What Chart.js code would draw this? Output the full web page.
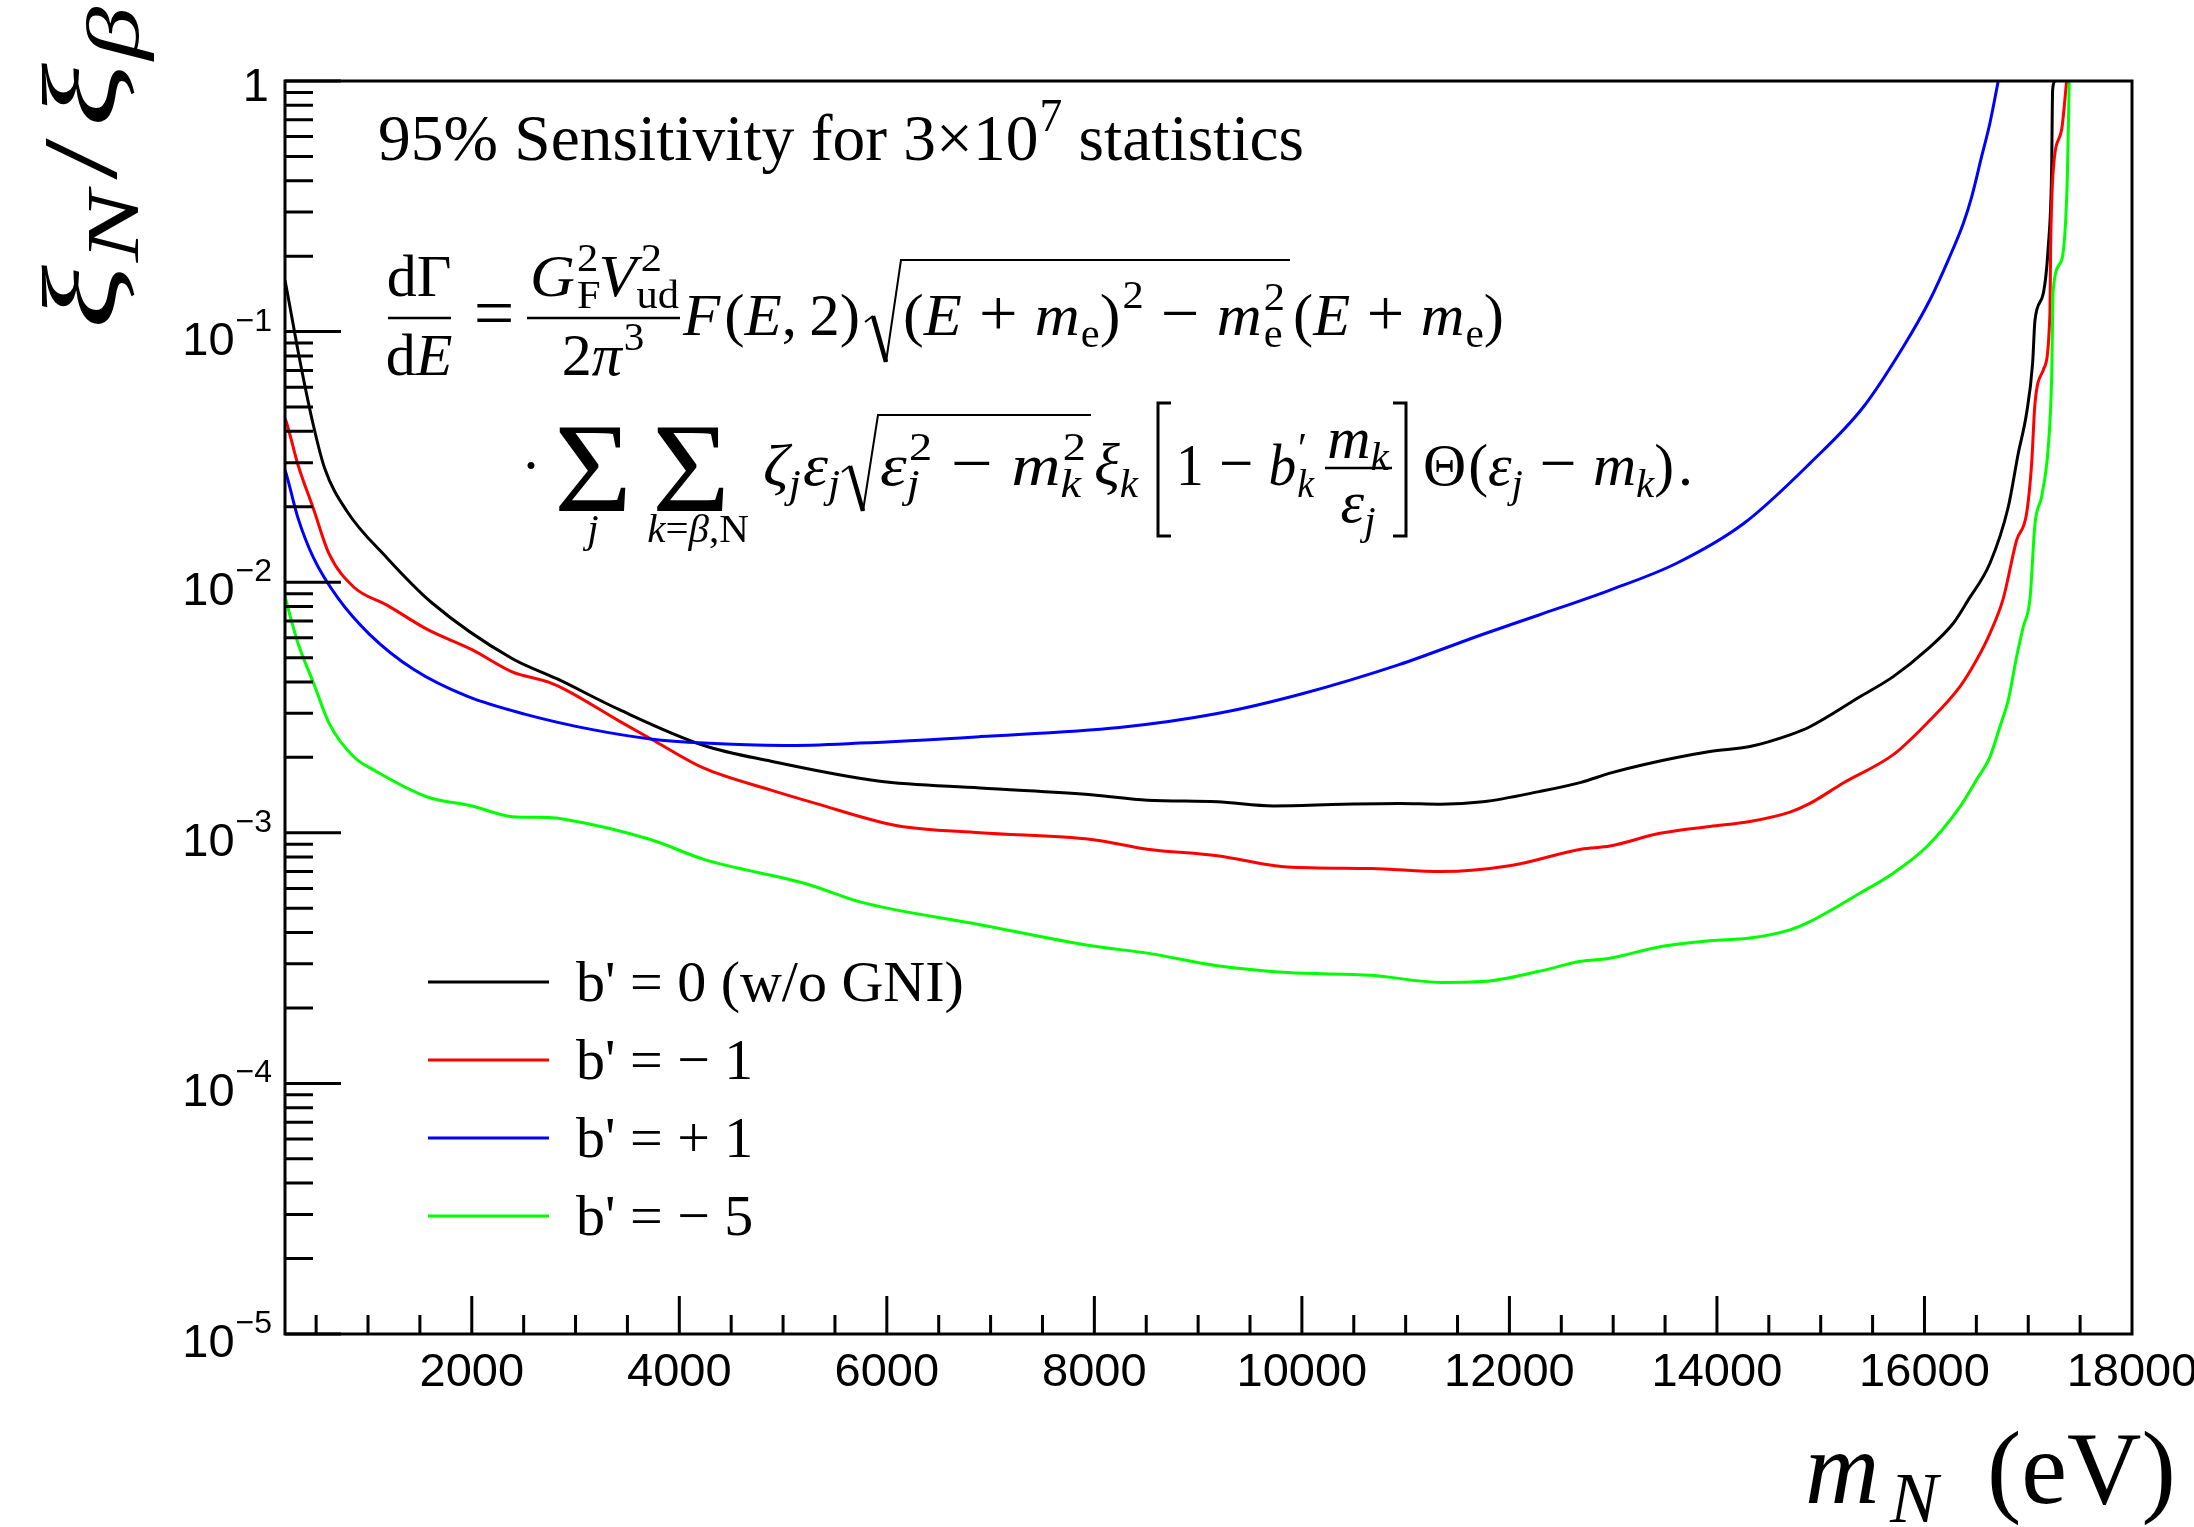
<!DOCTYPE html>
<html>
<head>
<meta charset="utf-8">
<title>95% Sensitivity</title>
<script src="https://cdn.jsdelivr.net/npm/chart.js@4.4.1/dist/chart.umd.min.js"></script>
<style>
  html, body { margin: 0; padding: 0; background: #ffffff; }
  canvas { display: block; }
</style>
</head>
<body>
<canvas id="sensChart" width="2194" height="1527" style="width:2194px;height:1527px"></canvas>
<script>
// m_N (eV) and xi_N / xi_beta, one pair per curve
const mN_b0 = [200, 216, 345, 475, 582, 797, 1183, 1615, 2388, 2819, 3422, 4238, 4884, 5915, 6898, 7971, 8511, 9185, 9724, 10398, 10937, 11342, 11746, 12285, 12690, 12969, 13290, 13933, 14318, 14704, 14896, 15378, 15699, 16021, 16278, 16422, 16631, 16808, 16904, 16984, 17042, 17065, 17145, 17193, 17225, 17235, 17257];
const xi_b0 = [0.16, 0.148, 0.076, 0.042, 0.0285, 0.0192, 0.0125, 0.00828, 0.00496, 0.00412, 0.0031, 0.00223, 0.00193, 0.00161, 0.00151, 0.00142, 0.00135, 0.00133, 0.00128, 0.0013, 0.00131, 0.0013, 0.00133, 0.00146, 0.00159, 0.00173, 0.00187, 0.00211, 0.00221, 0.00246, 0.00265, 0.00349, 0.0042, 0.00537, 0.00686, 0.0085, 0.0119, 0.020, 0.0327, 0.0472, 0.0746, 0.111, 0.142, 0.218, 0.43, 0.92, 1.0];

const mN_bm1 = [200, 216, 324, 475, 624, 862, 1183, 1571, 2002, 2388, 2734, 2905, 3422, 3766, 4238, 4884, 5314, 6089, 6898, 7971, 8511, 9185, 9859, 10668, 11342, 12016, 12690, 12969, 13451, 13933, 14318, 14704, 14896, 15217, 15699, 16021, 16342, 16503, 16631, 16759, 16888, 16984, 17033, 17065, 17145, 17209, 17216, 17241, 17322, 17370];
const xi_bm1 = [0.045, 0.0432, 0.0295, 0.0196, 0.013, 0.00957, 0.0081, 0.00648, 0.00538, 0.00439, 0.004, 0.00372, 0.00279, 0.00232, 0.00181, 0.00148, 0.00131, 0.00107, 0.001, 0.00094, 0.00086, 0.00081, 0.00073, 0.00072, 0.0007, 0.00074, 0.00086, 0.000885, 0.000995, 0.00106, 0.00111, 0.00121, 0.00131, 0.00158, 0.00205, 0.00273, 0.00383, 0.0049, 0.00625, 0.0086, 0.0147, 0.0188, 0.0298, 0.0517, 0.0703, 0.118, 0.218, 0.44, 0.64, 1.0];

const mN_bp1 = [200, 216, 324, 475, 711, 1012, 1442, 1959, 2518, 3163, 3722, 4238, 5014, 5741, 6898, 8241, 9185, 9994, 10937, 11746, 12285, 12969, 13612, 14254, 14896, 15411, 15796, 16053, 16229, 16374, 16455, 16551, 16631, 16711];
const xi_bp1 = [0.028, 0.0267, 0.0181, 0.0125, 0.00863, 0.00621, 0.00448, 0.0035, 0.00297, 0.00258, 0.00237, 0.00228, 0.00223, 0.00228, 0.00242, 0.00263, 0.00299, 0.00358, 0.00469, 0.0062, 0.0074, 0.0093, 0.0119, 0.0171, 0.0298, 0.050, 0.087, 0.134, 0.193, 0.27, 0.345, 0.50, 0.68, 1.0];

const mN_bm5 = [200, 216, 324, 475, 624, 862, 1056, 1571, 2002, 2388, 2734, 2905, 3722, 4238, 5228, 5741, 6898, 7971, 8511, 9185, 9859, 10668, 11342, 11746, 12285, 12690, 12969, 13451, 13933, 14318, 14704, 14896, 15378, 15699, 16021, 16342, 16503, 16631, 16727, 16808, 16888, 16952, 17017, 17065, 17129, 17193, 17225, 17241, 17322, 17376, 17395];
const xi_bm5 = [0.0088, 0.00828, 0.00573, 0.00396, 0.00274, 0.00201, 0.00178, 0.00139, 0.00128, 0.00116, 0.00115, 0.00113, 0.00094, 0.000783, 0.000625, 0.00053, 0.00043, 0.000354, 0.000331, 0.000295, 0.000277, 0.00027, 0.000253, 0.000255, 0.00028, 0.000307, 0.000316, 0.000351, 0.000371, 0.00038, 0.00041, 0.000442, 0.000574, 0.00069, 0.00088, 0.00127, 0.00163, 0.00201, 0.00265, 0.00339, 0.00504, 0.00664, 0.0086, 0.0171, 0.022, 0.0347, 0.064, 0.147, 0.193, 0.40, 1.0];

const seriesLabels = ["b' = 0 (w/o GNI)", "b' = \u2212 1", "b' = + 1", "b' = \u2212 5"];
const seriesColors = ['#000000', '#ff0000', '#0000ff', '#00ff00'];

// axis ticks
const xMajorTicks = [2000, 4000, 6000, 8000, 10000, 12000, 14000, 16000, 18000];
const xTickLabels = ['2000', '4000', '6000', '8000', '10000', '12000', '14000', '16000', '18000'];
const xMinorStep = 500;
const yMajorTicks = [1, 1e-1, 1e-2, 1e-3, 1e-4, 1e-5];
const yTickExponents = ['', '\u22121', '\u22122', '\u22123', '\u22124', '\u22125'];

const SERIF = '"Liberation Serif", "Times New Roman", serif';
const SANS = '"Liberation Sans", Arial, sans-serif';

function setFont(ctx, size, italic) {
    ctx.font = (italic ? 'italic ' : '') + size + 'px ' + SERIF;
}

// parts: [text, italic, size, dy, dx, stack]; a stacked part does not advance,
// the next one is drawn at the same x (sub/sup pairs)
function mathRun(ctx, parts, x, y, draw) {
    let cx = x, stackW = null;
    for (const p of parts) {
        const [t, it, sz, dy = 0, dx = 0, stack = false] = p;
        setFont(ctx, sz, it);
        const w = ctx.measureText(t).width;
        if (draw) ctx.fillText(t, cx + dx, y + dy);
        if (stack) { stackW = w + dx; continue; }
        cx += stackW !== null ? Math.max(stackW, w + dx) : w + dx;
        stackW = null;
    }
    return cx - x;
}

// draw a run squeezed/stretched to a given width
function mathFit(ctx, parts, x, y, width) {
    const w = mathRun(ctx, parts, 0, 0, false);
    ctx.save();
    ctx.translate(x, y);
    ctx.scale(width / w, 1);
    mathRun(ctx, parts, 0, 0, true);
    ctx.restore();
}

function mathCentered(ctx, parts, cx, y) {
    const w = mathRun(ctx, parts, 0, 0, false);
    mathRun(ctx, parts, cx - w / 2, y, true);
}

function radical(ctx, x, yMid, yBot, yTop, xEnd) {
    ctx.beginPath();
    ctx.lineWidth = 2;
    ctx.moveTo(x, yMid + 4);
    ctx.lineTo(x + 8, yMid - 2);
    ctx.stroke();
    ctx.beginPath();
    ctx.lineWidth = 4.5;
    ctx.moveTo(x + 8, yMid - 2);
    ctx.lineTo(x + 21, yBot);
    ctx.stroke();
    ctx.beginPath();
    ctx.lineWidth = 2;
    ctx.moveTo(x + 21, yBot);
    ctx.lineTo(x + 36, yTop);
    ctx.lineTo(xEnd, yTop);
    ctx.stroke();
}

function hbar(ctx, x1, x2, y) {
    ctx.beginPath();
    ctx.lineWidth = 2.5;
    ctx.moveTo(x1, y);
    ctx.lineTo(x2, y);
    ctx.stroke();
}

function drawFormula(ctx) {
    const S = 60, s = 41, OP = 66, SUP = -25, SUB = 12;
    const B1 = 335, B2 = 485;

    // first line
    mathCentered(ctx, [['d', 0, S], ['\u0393', 0, S]], 419, 296);
    hbar(ctx, 388, 451, 318);
    mathCentered(ctx, [['d', 0, S], ['E', 1, S]], 419, 375);
    mathCentered(ctx, [['=', 0, 72]], 494, B1 + 2);

    mathFit(ctx, [['G', 1, S], ['2', 0, s, SUP, 2, true], ['F', 0, s, SUB, 2],
                  ['V', 1, S, 0, -2], ['2', 0, s, SUP, 4, true], ['ud', 0, s, SUB, 0]], 530, 296, 149);
    hbar(ctx, 527, 680, 318);
    mathCentered(ctx, [['2', 0, S], ['\u03C0', 1, S], ['3', 0, s, SUP, 2]], 603, 375);

    mathFit(ctx, [['F', 1, S], ['(', 0, S, 0, 4], ['E', 1, S], [',', 0, S], ['2', 0, S, 0, 12], [')', 0, S]], 683, B1, 177);
    mathFit(ctx, [['(', 0, S], ['E', 1, S], [' + ', 0, OP], ['m', 1, S], ['e', 0, s, SUB, 1],
                  [')', 0, S], ['2', 0, s, SUP - 2, 2], [' \u2212 ', 0, OP],
                  ['m', 1, S], ['2', 0, s, SUP, 2, true], ['e', 0, s, SUB, 2]], 903, B1, 382);
    radical(ctx, 865, 318, 362, 260, 1290);
    mathFit(ctx, [['(', 0, S], ['E', 1, S], [' + ', 0, OP], ['m', 1, S], ['e', 0, s, SUB, 1], [')', 0, S]],
            1293, B1, 211);

    // second line
    mathRun(ctx, [['\u00B7', 0, S]], 521, B2, true);
    mathFit(ctx, [['\u03A3', 0, 128]], 554, 511, 78);
    mathCentered(ctx, [['j', 1, s]], 593, 542);
    mathFit(ctx, [['\u03A3', 0, 128]], 652, 511, 78);
    mathCentered(ctx, [['k', 1, s], ['=', 0, s], ['\u03B2', 1, s], [',', 0, s], ['N', 0, s]], 698, 542);

    mathFit(ctx, [['\u03B6', 1, S], ['j', 1, s, SUB, 0], ['\u03B5', 1, S, 0, 2], ['j', 1, s, SUB, 0]], 763, B2, 77);
    mathFit(ctx, [['\u03B5', 1, S], ['2', 0, s, SUP, 2, true], ['j', 1, s, SUB, 0], [' \u2212 ', 0, OP],
                  ['m', 1, S], ['2', 0, s, SUP, 2, true], ['k', 1, s, SUB, 0]], 880, B2, 206);
    radical(ctx, 842, 468, 511, 415, 1091);
    mathFit(ctx, [['\u03BE', 1, S], ['k', 1, s, SUB, 0]], 1094, B2, 44);

    ctx.beginPath();
    ctx.lineWidth = 3;
    ctx.moveTo(1171, 403); ctx.lineTo(1158, 403); ctx.lineTo(1158, 536); ctx.lineTo(1171, 536);
    ctx.moveTo(1393, 403); ctx.lineTo(1406, 403); ctx.lineTo(1406, 536); ctx.lineTo(1393, 536);
    ctx.stroke();

    mathFit(ctx, [['1', 0, S], [' \u2212 ', 0, OP], ['b', 1, S], ['\u2032', 0, s + 4, -22, 2, true], ['k', 1, s, SUB, 1]], 1176, B2, 138);
    mathCentered(ctx, [['m', 1, S], ['k', 1, s, SUB, 0]], 1358, 458);
    hbar(ctx, 1325, 1392, 468);
    mathCentered(ctx, [['\u03B5', 1, S], ['j', 1, s, SUB, 0]], 1358, 522);

    mathFit(ctx, [['\u0398', 0, S], ['(', 0, S, 0, 2], ['\u03B5', 1, S], ['j', 1, s, SUB, 0], [' \u2212 ', 0, OP],
                  ['m', 1, S], ['k', 1, s, SUB, 0], [')', 0, S], ['.', 0, S, 0, 4]], 1423, B2, 270);
}

const framePlugin = {
    id: 'rootFrame',
    afterDatasetsDraw(chart) {
        const ctx = chart.ctx;
        const xs = chart.scales.x, ys = chart.scales.y;
        const a = chart.chartArea;
        ctx.save();
        ctx.strokeStyle = '#000';
        ctx.lineWidth = 3;
        ctx.strokeRect(a.left, a.top, a.right - a.left, a.bottom - a.top);

        // ticks drawn inside the frame, ROOT style
        ctx.beginPath();
        for (let v = xMinorStep; v < xs.max; v += xMinorStep) {
            if (v <= xs.min) continue;
            const px = xs.getPixelForValue(v);
            const len = xMajorTicks.includes(v) ? 38 : 19;
            ctx.moveTo(px, a.bottom);
            ctx.lineTo(px, a.bottom - len);
        }
        yMajorTicks.forEach(t => {
            const py = ys.getPixelForValue(t);
            ctx.moveTo(a.left, py);
            ctx.lineTo(a.left + 56, py);
            if (t >= 1) return;
            for (let m = 2; m <= 9; m++) {
                const pm = ys.getPixelForValue(t * m);
                ctx.moveTo(a.left, pm);
                ctx.lineTo(a.left + 28, pm);
            }
        });
        ctx.stroke();

        // tick labels
        ctx.fillStyle = '#000';
        ctx.textBaseline = 'alphabetic';
        ctx.font = '47px ' + SANS;
        ctx.textAlign = 'center';
        xMajorTicks.forEach((t, i) => {
            ctx.fillText(xTickLabels[i], xs.getPixelForValue(t), 1386);
        });
        ctx.textAlign = 'right';
        yMajorTicks.forEach((t, i) => {
            const py = ys.getPixelForValue(t);
            const right = a.left - 13;
            if (!yTickExponents[i]) {
                ctx.font = '47px ' + SANS;
                ctx.fillText('1', a.left - 16, py + 20);
                return;
            }
            ctx.font = '32px ' + SANS;
            const ew = ctx.measureText(yTickExponents[i]).width;
            ctx.fillText(yTickExponents[i], right, py - 1);
            ctx.font = '47px ' + SANS;
            ctx.fillText('10', right - ew - 1, py + 23);
        });
        ctx.restore();
    },
    afterDraw(chart) {
        const ctx = chart.ctx;
        ctx.save();
        ctx.fillStyle = '#000';
        ctx.strokeStyle = '#000';
        ctx.textAlign = 'left';
        ctx.textBaseline = 'alphabetic';

        // header
        mathFit(ctx, [['95% Sensitivity for 3\u00D710', 0, 66], ['7', 0, 46, -29, 1], [' statistics', 0, 66]], 378, 160, 926);

        drawFormula(ctx);

        // legend
        chart.data.datasets.forEach((ds, i) => {
            const y = 982 + i * 78;
            ctx.beginPath();
            ctx.strokeStyle = ds.borderColor;
            ctx.lineWidth = 3;
            ctx.moveTo(428, y);
            ctx.lineTo(549, y);
            ctx.stroke();
            setFont(ctx, 58, false);
            ctx.fillText(ds.label, 576, y + 19);
        });

        // x axis title
        setFont(ctx, 103, true);
        ctx.fillText('m', 1805, 1503);
        setFont(ctx, 72, true);
        ctx.fillText('N', 1890, 1522);
        setFont(ctx, 103, false);
        ctx.fillText('(eV)', 1987, 1503);

        // y axis title, rotated
        const yParts = [['\u03BE', 1, 105], ['N', 1, 75, 22, 2], ['/', 0, 105, 0, 8], ['\u03BE', 1, 105, 0, 8], ['\u03B2', 1, 75, 22, 2]];
        ctx.translate(116, 329);
        ctx.rotate(-Math.PI / 2);
        const yw = mathRun(ctx, yParts, 0, 0, false);
        ctx.scale(322 / yw, 1);
        mathRun(ctx, yParts, 0, 0, true);
        ctx.restore();
    }
};

const curves = [[mN_b0, xi_b0], [mN_bm1, xi_bm1], [mN_bp1, xi_bp1], [mN_bm5, xi_bm5]];

new Chart(document.getElementById('sensChart').getContext('2d'), {
    type: 'scatter',
    data: {
        datasets: curves.map(([xv, yv], i) => ({
            label: seriesLabels[i],
            data: xv.map((x, k) => ({ x: x, y: yv[k] })),
            borderColor: seriesColors[i],
            backgroundColor: seriesColors[i],
            borderWidth: 3,
            showLine: true,
            fill: false,
            pointRadius: 0,
            cubicInterpolationMode: 'monotone',
            order: 3 - i
        }))
    },
    options: {
        responsive: false,
        animation: false,
        devicePixelRatio: 1,
        layout: { padding: { left: 285, right: 62, top: 81, bottom: 193 } },
        plugins: {
            legend: { display: false },
            tooltip: { enabled: false }
        },
        scales: {
            x: { type: 'linear', min: 200, max: 18000, display: false },
            y: { type: 'logarithmic', min: 1e-5, max: 1, display: false }
        }
    },
    plugins: [framePlugin]
});
</script>
</body>
</html>
